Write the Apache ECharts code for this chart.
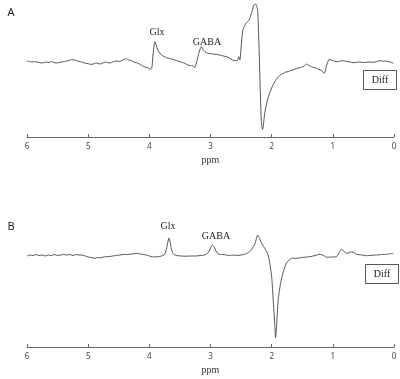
<!DOCTYPE html>
<html><head><meta charset="utf-8">
<script src="https://cdn.jsdelivr.net/npm/echarts@6/dist/echarts.min.js"></script>
<style>html,body{margin:0;padding:0;background:#fff}#c{width:400px;height:379px}</style>
</head><body><div id="c"></div>
<script>
// Panel A (ppm, signal)
var ppmA = [6.00,5.96,5.92,5.88,5.84,5.80,5.76,5.72,5.68,5.64,5.60,5.56,5.52,5.47,5.43,5.39,5.35,5.31,5.27,5.23,5.19,5.15,5.11,5.06,5.02,4.98,4.94,4.90,4.86,4.82,4.78,4.74,4.70,4.66,4.62,4.58,4.53,4.49,4.45,4.41,4.38,4.34,4.30,4.27,4.23,4.19,4.15,4.11,4.07,4.04,4.01,3.99,3.96,3.94,3.91,3.89,3.86,3.83,3.80,3.76,3.72,3.67,3.62,3.56,3.50,3.46,3.42,3.37,3.33,3.29,3.26,3.23,3.21,3.18,3.15,3.12,3.09,3.04,3.00,2.96,2.90,2.85,2.79,2.74,2.69,2.64,2.60,2.57,2.55,2.54,2.52,2.49,2.47,2.42,2.37,2.33,2.29,2.26,2.23,2.21,2.19,2.17,2.15,2.14,2.11,2.06,2.00,1.95,1.89,1.85,1.81,1.77,1.73,1.69,1.65,1.62,1.59,1.55,1.51,1.47,1.43,1.39,1.35,1.31,1.27,1.23,1.18,1.14,1.10,1.06,1.03,0.99,0.95,0.91,0.87,0.83,0.79,0.75,0.71,0.67,0.61,0.56,0.50,0.45,0.39,0.34,0.28,0.23,0.19,0.15,0.10,0.06,0.01];
var valA = [0,-0.5,-1,-0.5,-1,-1.5,-2,-1.5,-1,-1.5,-0.5,-1.5,-2,-1.5,-1,-0.5,0,0.5,1.5,1,0.5,-0.5,-1,-2,-2.5,-3,-3.5,-2.5,-2,-3,-2.5,-1.5,-1,-2,-1.5,-0.5,0,-0.5,0.5,1.5,2.5,1,0.5,-0.5,-1.5,-2,-3.5,-5,-6,-6.5,-7,-8.5,-7,6,19.3,16,11,8,6,4.5,3.3,2.5,1.7,0.5,-0.7,-1.5,-2.3,-4,-4.5,-4.7,-6.7,-2,3,10,14.3,11.5,9.3,7.7,7.5,7,6.5,6,5,4.3,3,1,0.5,0,2,4.3,1,21,31,37.7,41,47.7,56,57,51,21,-22,-59,-68.5,-66,-51,-37,-27,-20.7,-15.7,-13.5,-12.3,-11,-10.7,-9.5,-9,-8,-7.3,-7,-6.3,-5,-3,-4.5,-5.7,-6.5,-7.3,-8.5,-9.7,-12.3,-4,1.7,1,0.3,-0.5,-0.7,0,0.3,-0.3,-0.7,-1.2,-1.7,-1.3,-1,-1.5,-1.3,-1,-1.3,-0.5,0.3,-0.2,0,-0.5,-1,-2.3];
// Panel B (ppm, signal)
var ppmB = [6.00,5.95,5.90,5.85,5.80,5.75,5.70,5.65,5.60,5.55,5.50,5.45,5.40,5.35,5.30,5.25,5.20,5.15,5.10,5.05,5.00,4.95,4.89,4.85,4.80,4.75,4.70,4.65,4.60,4.55,4.48,4.42,4.36,4.30,4.25,4.21,4.15,4.10,4.05,4.00,3.95,3.91,3.85,3.80,3.76,3.74,3.72,3.70,3.68,3.66,3.64,3.62,3.60,3.55,3.48,3.40,3.32,3.25,3.17,3.10,3.05,3.02,2.99,2.97,2.94,2.91,2.88,2.84,2.80,2.74,2.69,2.62,2.56,2.50,2.43,2.36,2.30,2.27,2.23,2.20,2.165,2.13,2.08,2.06,2.04,2.00,1.975,1.95,1.936,1.92,1.894,1.854,1.81,1.756,1.674,1.59,1.48,1.375,1.29,1.21,1.15,1.10,1.02,0.94,0.856,0.774,0.69,0.61,0.53,0.447,0.36,0.283,0.20,0.12,0.01];
var valB = [-1,0,-0.5,0.5,-0.5,0,-1,0,-0.5,0.5,-0.5,0,0.5,0,0.5,-0.5,0.5,0,0,-1,-2,-2.5,-3.3,-2.5,-2.8,-2,-1.7,-1.5,-1,-0.5,0,0.5,0.5,1,1.2,1.7,1,0.5,0,-1,-1.7,-2,-1.5,-1,0,2,6,12,17,13,6,2.5,0.5,-0.5,-1,-1.2,-1,-1,-0.5,0,1.5,4,8,10,8,4,1.5,0.5,0.5,0,-0.5,0,-0.5,0,1,3.3,8.3,11.7,20,16.7,11.7,8.3,3.3,0,-5,-21.7,-45,-68,-82.7,-71.7,-45,-28.3,-16.7,-8,-3.3,-3.3,-2.3,-1.7,-0.5,0.7,-0.5,-2.3,-2,-1.7,5.7,1.7,3.3,0.7,0,-0.7,-0.3,0,0.5,0.7,1.7];
var xTicks = [0,1,2,3,4,5,6];

function pairs(xs, ys){ return xs.map(function(x,i){ return [x, ys[i]]; }); }

var serif = 'Liberation Serif';
var sans = 'Noto Sans';
function xAx(idx){
  return {
    gridIndex: idx, type:'value', min: xTicks[0], max: xTicks[xTicks.length-1], interval:1, inverse:true,
    name:'ppm', nameLocation:'middle', nameGap:18,
    nameTextStyle:{fontFamily:serif, fontSize:10, color:'#333'},
    axisLine:{show:true, onZero:false, lineStyle:{color:'#666', width:1}},
    axisTick:{show:true, inside:true, length:3, lineStyle:{color:'#666'}},
    axisLabel:{fontFamily:sans, fontSize:8, color:'#444', margin:6},
    splitLine:{show:false}
  };
}
var chart = echarts.init(document.getElementById('c'), null, {renderer:'canvas'});
chart.setOption({
  animation:false,
  backgroundColor:'#fff',
  grid:[
    {left:27, right:6, top:4, height:133, outerBoundsMode:'none'},
    {left:27, right:6, top:225, height:122, outerBoundsMode:'none'}
  ],
  xAxis:[xAx(0), xAx(1)],
  yAxis:[
    {gridIndex:0, type:'value', min:-76, max:57, show:false, splitLine:{show:false}},
    {gridIndex:1, type:'value', min:-92, max:30, show:false, splitLine:{show:false}}
  ],
  series:[
    {type:'line', xAxisIndex:0, yAxisIndex:0, data:pairs(ppmA,valA), showSymbol:false, smooth:0.2, lineStyle:{color:'#555', width:1}},
    {type:'line', xAxisIndex:1, yAxisIndex:1, data:pairs(ppmB,valB), showSymbol:false, smooth:0.2, lineStyle:{color:'#555', width:1}}
  ],
  graphic:[
    {type:'text', x:11, y:13, style:{text:'A', font:'11px "Noto Sans"', fill:'#222', align:'center', verticalAlign:'middle'}},
    {type:'text', x:11, y:227, style:{text:'B', font:'11px "Noto Sans"', fill:'#222', align:'center', verticalAlign:'middle'}},
    {type:'text', x:157, y:32, style:{text:'Glx', font:'10px "Liberation Serif"', fill:'#222', align:'center', verticalAlign:'middle'}},
    {type:'text', x:207, y:42, style:{text:'GABA', font:'10px "Liberation Serif"', fill:'#222', align:'center', verticalAlign:'middle'}},
    {type:'text', x:168, y:226, style:{text:'Glx', font:'10px "Liberation Serif"', fill:'#222', align:'center', verticalAlign:'middle'}},
    {type:'text', x:216, y:236, style:{text:'GABA', font:'10px "Liberation Serif"', fill:'#222', align:'center', verticalAlign:'middle'}},
    {type:'rect', shape:{x:363.5, y:70.5, width:33, height:19}, style:{fill:'#fff', stroke:'#555', lineWidth:1}},
    {type:'text', x:380, y:80, style:{text:'Diff', font:'10px "Liberation Serif"', fill:'#222', align:'center', verticalAlign:'middle'}},
    {type:'rect', shape:{x:365.5, y:264.5, width:33, height:19}, style:{fill:'#fff', stroke:'#555', lineWidth:1}},
    {type:'text', x:382, y:274, style:{text:'Diff', font:'10px "Liberation Serif"', fill:'#222', align:'center', verticalAlign:'middle'}}
  ]
});
</script>
</body></html>
